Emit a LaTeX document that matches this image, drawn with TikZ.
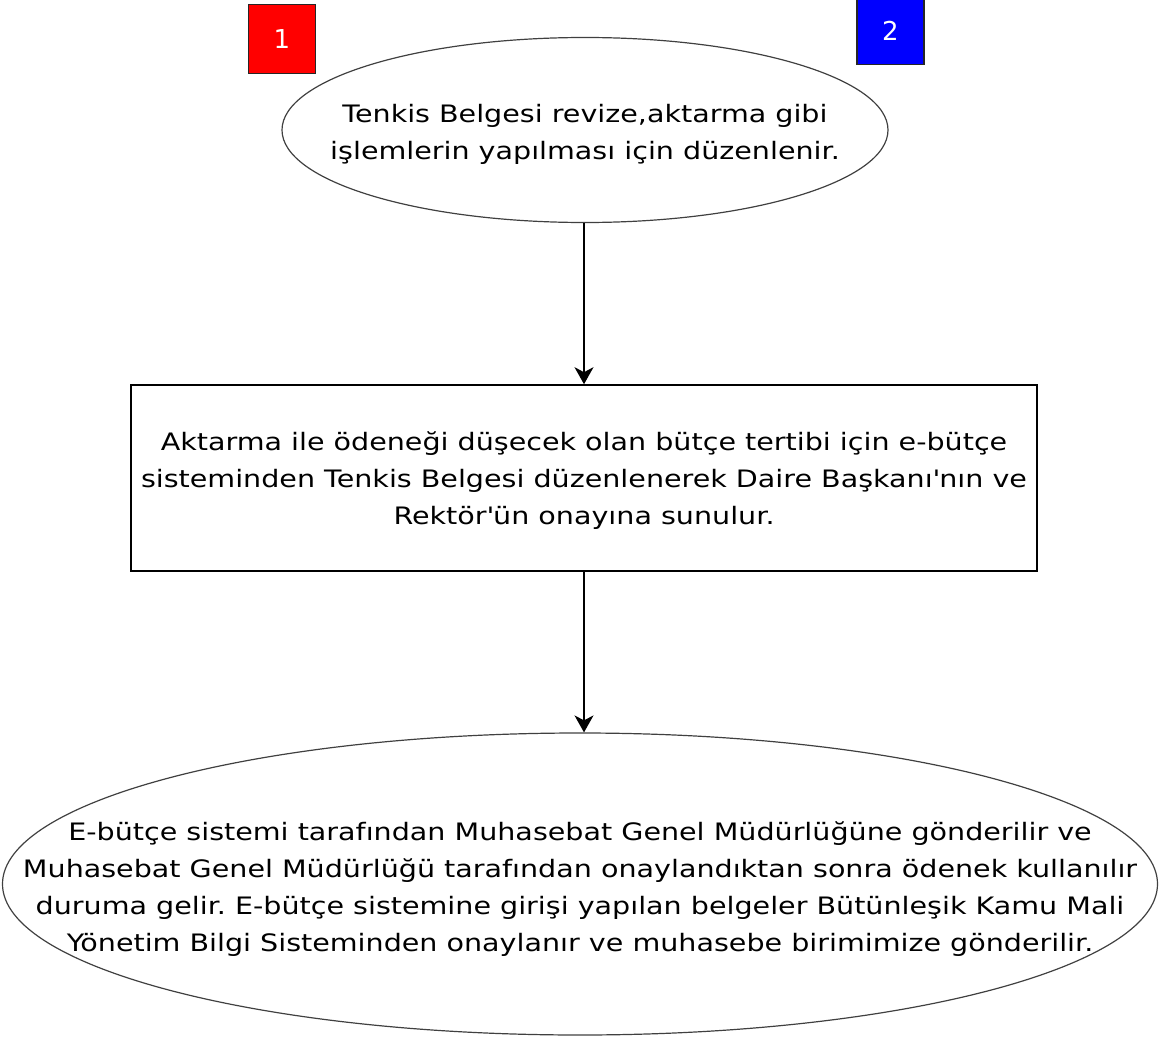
\documentclass[tikz,border=0pt]{standalone}
\usepackage{fontspec}
\setmainfont{DejaVu Sans}[FakeStretch=1.19]
\newfontfamily\tagfont{DejaVu Sans}
\usetikzlibrary{shapes.geometric,arrows.meta,positioning}

\tikzset{
	oval/.style={ellipse, draw=black!75, line width=1.2pt, inner sep=0pt},
	ovaltext/.style={align=center, inner sep=0pt},
	stepbox/.style={rectangle, draw=black, line width=1.6pt, align=center, inner sep=0pt},
	tag/.style={rectangle, draw=black!85, line width=1.6pt, text=white, inner sep=0pt,
		font=\tagfont\fontsize{26}{30}\selectfont},
	flow/.style={-{Stealth[length=17pt,width=19pt,inset=5pt]}, line width=1.4pt}
}

\begin{document}
\begin{tikzpicture}[x=1pt,y=-1pt, font=\fontsize{24}{37}\selectfont]
	\frenchspacing
	\useasboundingbox (0,0) rectangle (1160,1038);
	% main steps
	\node[oval, minimum width=606pt, minimum height=185pt] (start) at (585,130) {};
	\node[ovaltext] (starttext) at ([yshift=-4pt]start.center)
		{Tenkis Belgesi revize,aktarma gibi\\işlemlerin yapılması için düzenlenir.};
	\node[stepbox, minimum width=906pt, minimum height=186pt] (tenkis) at (584,478) {};
	\node[ovaltext] (tenkistext) at ([yshift=-3pt]tenkis.center)
		{Aktarma ile ödeneği düşecek olan bütçe tertibi için e-bütçe\\
		sisteminden Tenkis Belgesi düzenlenerek Daire Başkanı\textquotesingle nın ve\\
		Rektör\textquotesingle ün onayına sunulur.};
	\node[oval, minimum width=1155pt, minimum height=302pt] (end) at (580,884) {};
	\node[ovaltext] (endtext) at ([yshift=-5pt]end.center)
		{E-bütçe sistemi tarafından Muhasebat Genel Müdürlüğüne gönderilir ve\\
		Muhasebat Genel Müdürlüğü tarafından onaylandıktan sonra ödenek kullanılır\\
		duruma gelir. E-bütçe sistemine girişi yapılan belgeler Bütünleşik Kamu Mali\\
		Yönetim Bilgi Sisteminden onaylanır ve muhasebe birimimize gönderilir.};
	% tags
	\node[tag, fill=red, minimum width=67pt, minimum height=69pt] (t1) at (282,39) {1};
	\node[tag, fill=blue, minimum width=67pt, minimum height=67pt] (t2) at (890.5,31) {2};
	% connectors
	\draw[flow] (start.south -| tenkis.north) -- (tenkis.north);
	\draw[flow] (tenkis.south) -- (end.north -| tenkis.south);
\end{tikzpicture}
\end{document}
